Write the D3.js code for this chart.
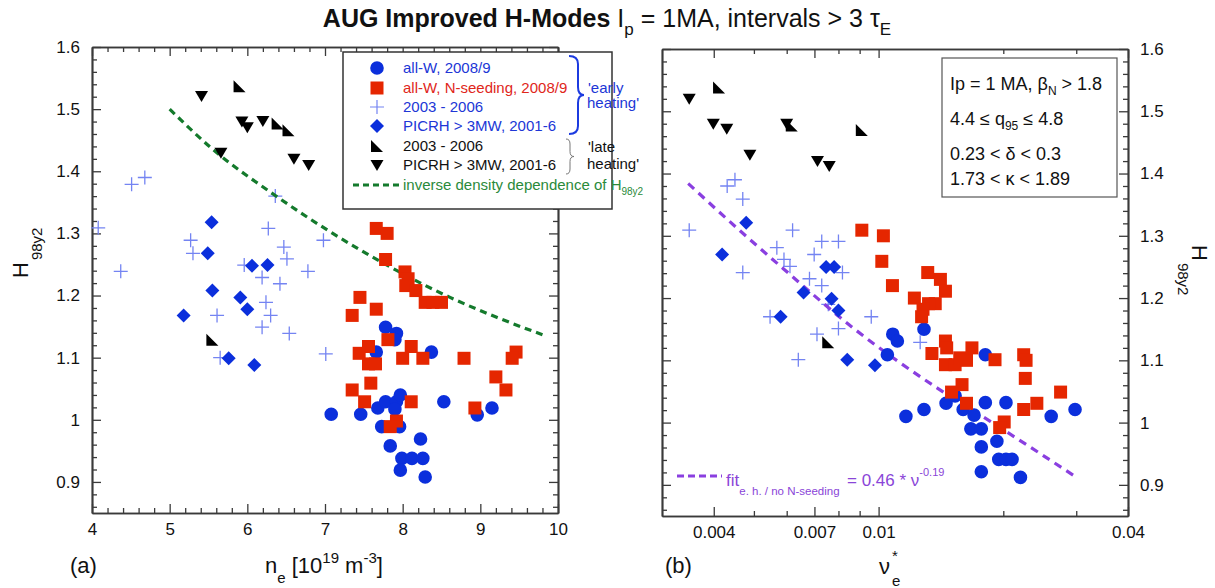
<!DOCTYPE html>
<html>
<head>
<meta charset="utf-8">
<script src="https://cdn.jsdelivr.net/npm/d3@7"></script>
<style>
  body { margin: 0; background: #fff; }
  svg { font-family: Arial, "Liberation Sans", sans-serif; }
</style>
</head>
<body>
<script>
// ---- data: panel (a)  [n_e (1e19 m^-3), H98y2]
const aAllW = [[7.78,1.149],[7.92,1.139],[7.90,1.129],[7.66,1.109],[8.37,1.109],[8.53,1.029],[9.15,1.019],[8.96,1.008],[7.08,1.009],[7.46,1.009],[7.68,1.019],[7.78,1.029],[7.92,1.029],[7.97,1.040],[7.90,1.017],[7.73,0.989],[7.96,0.989],[7.84,0.958],[8.23,0.969],[7.99,0.938],[8.12,0.938],[8.26,0.938],[7.97,0.919],[8.29,0.908]];
const aNseed = [[7.66,1.308],[7.80,1.300],[7.78,1.258],[8.03,1.238],[8.07,1.227],[8.04,1.216],[8.17,1.208],[8.29,1.189],[8.39,1.189],[8.50,1.189],[7.45,1.197],[7.66,1.178],[7.35,1.168],[7.81,1.129],[7.56,1.118],[7.44,1.107],[8.11,1.118],[8.00,1.099],[8.26,1.099],[8.79,1.099],[7.56,1.090],[7.65,1.090],[9.46,1.109],[9.41,1.099],[9.20,1.069],[9.33,1.048],[7.59,1.059],[7.35,1.048],[7.51,1.029],[8.11,1.029],[8.93,1.019],[7.92,0.998],[7.84,0.989]];
const aEarly0306 = [[4.51,1.379],[4.68,1.390],[4.08,1.309],[6.36,1.360],[6.27,1.308],[6.98,1.289],[5.27,1.289],[5.30,1.268],[6.47,1.278],[6.51,1.259],[4.37,1.239],[5.96,1.249],[6.19,1.229],[6.42,1.219],[6.78,1.239],[6.24,1.189],[6.30,1.168],[5.61,1.168],[6.19,1.149],[6.54,1.139],[5.65,1.100],[7.01,1.106]];
const aEarlyIcrh = [[5.54,1.318],[5.49,1.268],[6.06,1.248],[6.26,1.249],[5.55,1.208],[5.91,1.197],[6.00,1.178],[5.18,1.168],[5.76,1.099],[6.09,1.088]];
const aLate0306 = [[5.90,1.537],[6.39,1.477],[6.53,1.466],[5.55,1.129]];
const aLateIcrh = [[5.41,1.521],[5.93,1.480],[6.00,1.471],[6.20,1.481],[5.66,1.430],[6.60,1.420],[6.79,1.410]];
const aInverse = [[5.00,1.500],[5.54,1.437],[6.36,1.361],[7.10,1.300],[7.81,1.248],[8.61,1.197],[9.21,1.165],[9.80,1.137]];

// ---- data: panel (b)  [nu*_e, H98y2]
const bAllW = [[0.01082,1.142],[0.0111,1.131],[0.0105,1.109],[0.01287,1.150],[0.01287,1.021],[0.01164,1.010],[0.01455,1.031],[0.0153,1.043],[0.0160,1.021],[0.0170,1.012],[0.0181,1.032],[0.0181,1.109],[0.0203,1.032],[0.0167,0.990],[0.0177,0.990],[0.0193,0.970],[0.0177,0.961],[0.0195,0.941],[0.0203,0.941],[0.0210,0.941],[0.0177,0.921],[0.0220,0.912],[0.0261,1.010],[0.0298,1.021]];
const bNseed = [[0.00911,1.309],[0.01027,1.300],[0.01018,1.259],[0.0108,1.220],[0.0122,1.200],[0.01314,1.241],[0.0141,1.230],[0.0145,1.211],[0.0137,1.191],[0.0132,1.191],[0.0128,1.182],[0.0127,1.170],[0.0145,1.131],[0.0146,1.120],[0.01345,1.111],[0.0145,1.093],[0.0153,1.093],[0.0157,1.104],[0.0163,1.100],[0.0168,1.120],[0.0191,1.101],[0.0224,1.109],[0.0227,1.100],[0.0226,1.071],[0.0159,1.061],[0.0150,1.049],[0.0163,1.031],[0.0201,1.001],[0.0196,0.992],[0.0224,1.021],[0.0241,1.031],[0.0275,1.049]];
const bEarly0306 = [[0.0045,1.390],[0.00431,1.380],[0.00470,1.359],[0.00349,1.309],[0.00620,1.309],[0.00729,1.291],[0.0080,1.291],[0.00568,1.281],[0.00699,1.270],[0.00591,1.262],[0.00611,1.251],[0.00470,1.241],[0.00818,1.241],[0.00681,1.231],[0.00729,1.220],[0.00756,1.190],[0.00547,1.170],[0.0096,1.170],[0.0080,1.151],[0.0071,1.142],[0.0064,1.101],[0.0126,1.129]];
const bEarlyIcrh = [[0.00479,1.321],[0.00419,1.270],[0.00747,1.250],[0.00781,1.250],[0.00659,1.209],[0.0077,1.199],[0.0080,1.180],[0.0058,1.170],[0.0084,1.101],[0.0098,1.092]];
const bLate0306 = [[0.00412,1.538],[0.00617,1.477],[0.00911,1.470],[0.00756,1.129]];
const bLateIcrh = [[0.00349,1.520],[0.00399,1.480],[0.00430,1.472],[0.0060,1.480],[0.00489,1.430],[0.00712,1.420],[0.00760,1.412]];
const bFit = [[0.00347,1.384],[0.00463,1.308],[0.00587,1.248],[0.00868,1.152],[0.01389,1.055],[0.0186,1.002],[0.0299,0.913]];

// ---- ticks
const hTicks = [0.9, 1, 1.1, 1.2, 1.3, 1.4, 1.5, 1.6];
const neTicks = [4, 5, 6, 7, 8, 9, 10];
const nuTicks = [0.004, 0.007, 0.01, 0.04];
const nuMinor = [0.005, 0.006, 0.008, 0.009, 0.02, 0.03];

const legendItems = [
  { label: "all-W, 2008/9", shape: "circle", color: "#2036d6" },
  { label: "all-W, N-seeding, 2008/9", shape: "square", color: "#e0261a" },
  { label: "2003 - 2006", shape: "plus", color: "#2036d6" },
  { label: "PICRH > 3MW, 2001-6", shape: "diamond", color: "#2036d6" },
  { label: "2003 - 2006", shape: "corner", color: "#111" },
  { label: "PICRH > 3MW, 2001-6", shape: "down", color: "#111" }
];

const FONT = 'Arial, "Liberation Sans", sans-serif';
const BLUE = "#0b2fdc", RED = "#e52600", PLUS = "#7484f2", GREEN = "#147a2c", PURPLE = "#8a3fe0", AX = "#3a3a3a";

const svg = d3.select("body").append("svg")
  .attr("width", 1215)
  .attr("height", 588);

const xA = d3.scaleLinear().domain([4, 10]).range([92, 558]);
const yA = d3.scaleLinear().domain([0.85, 1.6]).range([513, 47]);
const xB = d3.scaleLog().domain([0.003, 0.04]).range([662, 1128]);
const yB = d3.scaleLinear().domain([0.85, 1.6]).range([516, 49]);

const hMinor = d3.range(43, 81).map(i => i / 50).filter(v => !hTicks.some(t => Math.abs(t - v) < 1e-6));
const neMinor = d3.range(20, 51).map(i => i / 5).filter(v => !neTicks.includes(v));

const shapes = {
  circle: d3.symbol(d3.symbolCircle, Math.PI * 6.8 * 6.8)(),
  square: "M-6.5,-6.5H6.5V6.5H-6.5Z",
  diamond: "M0,-7L7,0L0,7L-7,0Z",
  down: "M-6.5,-5L6.5,-5L0,6Z",
  corner: "M-6,-6L-6,6L6,6Z",
  plus: "M-7,0H7M0,-7V7"
};

function fmtH(d) { return String(+d.toFixed(2)); }

function drawAxis(axisFn, scale, translate, vals, size, fmt, pad) {
  const a = axisFn(scale)
    .tickValues(vals)
    .tickSize(-size)
    .tickSizeOuter(0)
    .tickPadding(pad || 0)
    .tickFormat(fmt || (() => ""));
  const g = svg.append("g")
    .attr("transform", translate)
    .call(a)
    .attr("font-family", FONT)
    .attr("font-size", 17);
  g.select(".domain").attr("stroke", AX).attr("stroke-width", 1.7);
  g.selectAll(".tick line").attr("stroke", AX).attr("stroke-width", 1.3);
  g.selectAll(".tick text").attr("fill", "#111");
  return g;
}

// panel (a) frame
drawAxis(d3.axisBottom, xA, "translate(0,513)", neMinor, 5);
drawAxis(d3.axisBottom, xA, "translate(0,513)", neTicks, 9, d3.format("d"), 10);
drawAxis(d3.axisTop, xA, "translate(0,47)", neMinor, 5);
drawAxis(d3.axisTop, xA, "translate(0,47)", neTicks, 9);
drawAxis(d3.axisLeft, yA, "translate(92,0)", hMinor, 5);
drawAxis(d3.axisLeft, yA, "translate(92,0)", hTicks, 9, fmtH, 12);
drawAxis(d3.axisRight, yA, "translate(558,0)", hMinor, 5);
drawAxis(d3.axisRight, yA, "translate(558,0)", hTicks, 9);

// panel (b) frame
drawAxis(d3.axisBottom, xB, "translate(0,516)", nuMinor, 5);
drawAxis(d3.axisBottom, xB, "translate(0,516)", nuTicks, 9, d => String(d), 10);
drawAxis(d3.axisTop, xB, "translate(0,49)", nuMinor, 5);
drawAxis(d3.axisTop, xB, "translate(0,49)", nuTicks, 9);
drawAxis(d3.axisLeft, yB, "translate(662,0)", hMinor, 5);
drawAxis(d3.axisLeft, yB, "translate(662,0)", hTicks, 9);
drawAxis(d3.axisRight, yB, "translate(1128,0)", hMinor, 5);
drawAxis(d3.axisRight, yB, "translate(1128,0)", hTicks, 9, fmtH, 12);

function drawPoints(data, x, y, shape, fill, stroke) {
  svg.append("g").selectAll("path")
    .data(data)
    .join("path")
    .attr("transform", d => `translate(${x(d[0])},${y(d[1])})`)
    .attr("d", shapes[shape])
    .attr("fill", stroke ? "none" : fill)
    .attr("stroke", stroke || "none")
    .attr("stroke-width", stroke ? 1.3 : 0);
}

function drawDashed(data, x, y, color, dash) {
  svg.append("path")
    .datum(data)
    .attr("fill", "none")
    .attr("stroke", color)
    .attr("stroke-width", 3.2)
    .attr("stroke-dasharray", dash)
    .attr("d", d3.line().x(d => x(d[0])).y(d => y(d[1])).curve(d3.curveMonotoneX));
}

// panel (a) marks
drawPoints(aEarly0306, xA, yA, "plus", null, PLUS);
drawDashed(aInverse, xA, yA, GREEN, "7,5");
drawPoints(aEarlyIcrh, xA, yA, "diamond", BLUE);
drawPoints(aLate0306, xA, yA, "corner", "#000");
drawPoints(aLateIcrh, xA, yA, "down", "#000");
drawPoints(aAllW, xA, yA, "circle", BLUE);
drawPoints(aNseed, xA, yA, "square", RED);

// panel (b) marks
drawPoints(bEarly0306, xB, yB, "plus", null, PLUS);
drawDashed(bFit, xB, yB, PURPLE, "8,6");
drawPoints(bEarlyIcrh, xB, yB, "diamond", BLUE);
drawPoints(bLate0306, xB, yB, "corner", "#000");
drawPoints(bLateIcrh, xB, yB, "down", "#000");
drawPoints(bAllW, xB, yB, "circle", BLUE);
drawPoints(bNseed, xB, yB, "square", RED);

// legend (a)
const leg = svg.append("g").attr("font-family", FONT).attr("font-size", 15);
leg.append("rect").attr("x", 343).attr("y", 52).attr("width", 269).attr("height", 157)
  .attr("fill", "#fff").attr("stroke", "#333").attr("stroke-width", 1.5);
const rowY = [68, 88, 107, 126, 146, 165];
legendItems.forEach((it, i) => {
  const sym = it.shape === "plus"
    ? { fill: "none", stroke: PLUS }
    : { fill: it.shape === "square" ? RED : (it.color === "#111" ? "#000" : BLUE), stroke: "none" };
  leg.append("path").attr("transform", `translate(377,${rowY[i]})`).attr("d", shapes[it.shape])
    .attr("fill", sym.fill).attr("stroke", sym.stroke).attr("stroke-width", 1.2);
  leg.append("text").attr("x", 403).attr("y", rowY[i] + 5).attr("fill", it.color).text(it.label);
});
leg.append("line").attr("x1", 353).attr("x2", 399).attr("y1", 185).attr("y2", 185)
  .attr("stroke", GREEN).attr("stroke-width", 3).attr("stroke-dasharray", "6,4");
const gt = leg.append("text").attr("x", 403).attr("y", 190).attr("fill", "#2a8a3a");
gt.append("tspan").text("inverse density dependence of H");
gt.append("tspan").attr("dy", 5).attr("font-size", 10).text("98y2");

function brace(x0, xv, tip, y0, y1, r) {
  const ym = (y0 + y1) / 2;
  return `M${x0},${y0} Q${xv},${y0} ${xv},${y0 + r} L${xv},${ym - r} Q${xv},${ym} ${tip},${ym}` +
    ` Q${xv},${ym} ${xv},${ym + r} L${xv},${y1 - r} Q${xv},${y1} ${x0},${y1}`;
}
leg.append("path").attr("d", brace(569, 578, 584, 56, 134, 8))
  .attr("fill", "none").attr("stroke", "#1c3be0").attr("stroke-width", 2);
leg.append("path").attr("d", brace(566, 570, 574, 139, 174, 5))
  .attr("fill", "none").attr("stroke", "#777").attr("stroke-width", 1);
leg.append("text").attr("x", 588).attr("y", 93).attr("fill", "#2036d6").text("'early");
leg.append("text").attr("x", 587).attr("y", 108).attr("fill", "#2036d6").text("heating'");
leg.append("text").attr("x", 588).attr("y", 152).attr("fill", "#111").text("'late");
leg.append("text").attr("x", 587).attr("y", 169).attr("fill", "#111").text("heating'");

// info box (b)
const info = svg.append("g").attr("font-family", FONT).attr("font-size", 18).attr("fill", "#111");
info.append("rect").attr("x", 942).attr("y", 58).attr("width", 175).attr("height", 139)
  .attr("fill", "#fff").attr("stroke", "#555").attr("stroke-width", 1.2);
const l1 = info.append("text").attr("x", 950).attr("y", 90);
l1.append("tspan").text("Ip = 1 MA, β");
l1.append("tspan").attr("dy", 5).attr("font-size", 12).text("N");
l1.append("tspan").attr("dy", -5).text(" > 1.8");
const l2 = info.append("text").attr("x", 950).attr("y", 125);
l2.append("tspan").text("4.4 ≤ q");
l2.append("tspan").attr("dy", 5).attr("font-size", 12).text("95");
l2.append("tspan").attr("dy", -5).text(" ≤ 4.8");
info.append("text").attr("x", 950).attr("y", 160).text("0.23 < δ < 0.3");
info.append("text").attr("x", 950).attr("y", 185).text("1.73 < κ < 1.89");

// fit legend (b)
const fitG = svg.append("g").attr("font-family", FONT).attr("fill", "#8a45d8");
fitG.append("line").attr("x1", 677).attr("x2", 722).attr("y1", 476).attr("y2", 476)
  .attr("stroke", PURPLE).attr("stroke-width", 3).attr("stroke-dasharray", "7,4");
const ft = fitG.append("text").attr("x", 726).attr("y", 486).attr("font-size", 17);
ft.append("tspan").text("fit");
ft.append("tspan").attr("dy", 9).attr("font-size", 11.5).text("e. h. / no N-seeding");
const fe = fitG.append("text").attr("x", 847).attr("y", 486).attr("font-size", 17);
fe.append("tspan").text("= 0.46 * ν");
fe.append("tspan").attr("dy", -10).attr("font-size", 11).text("-0.19");

// title
const title = svg.append("text").attr("x", 607).attr("y", 27).attr("text-anchor", "middle")
  .attr("font-family", FONT).attr("font-size", 25).attr("fill", "#111");
title.append("tspan").attr("font-weight", "bold").text("AUG Improved H-Modes ");
title.append("tspan").text("I");
title.append("tspan").attr("dy", 8).attr("font-size", 17).text("p");
title.append("tspan").attr("dy", -8).text(" = 1MA, intervals > 3 τ");
title.append("tspan").attr("dy", 8).attr("font-size", 17).text("E");

// axis titles
const lab = svg.append("g").attr("font-family", FONT).attr("fill", "#111").attr("font-size", 22);
const yl = lab.append("text").attr("transform", "translate(28,278) rotate(-90)");
yl.append("tspan").text("H");
yl.append("tspan").attr("dx", 2).attr("dy", 14).attr("font-size", 15).text("98y2");
const yr = lab.append("text").attr("transform", "translate(1192,245) rotate(90)");
yr.append("tspan").text("H");
yr.append("tspan").attr("dx", 2).attr("dy", 14).attr("font-size", 15).text("98y2");

const xl = lab.append("text").attr("x", 265).attr("y", 573);
xl.append("tspan").text("n");
xl.append("tspan").attr("dy", 10).attr("font-size", 15).text("e");
xl.append("tspan").attr("dy", -10).text(" [10");
xl.append("tspan").attr("dy", -10).attr("font-size", 15).text("19");
xl.append("tspan").attr("dy", 10).text(" m");
xl.append("tspan").attr("dy", -10).attr("font-size", 15).text("-3");
xl.append("tspan").attr("dy", 10).text("]");
lab.append("text").attr("x", 70).attr("y", 573).text("(a)");
lab.append("text").attr("x", 665).attr("y", 573).text("(b)");
lab.append("text").attr("x", 879).attr("y", 574).text("ν");
lab.append("text").attr("x", 892).attr("y", 561).attr("font-size", 15).text("*");
lab.append("text").attr("x", 892).attr("y", 586).attr("font-size", 15).text("e");
</script>
</body>
</html>
